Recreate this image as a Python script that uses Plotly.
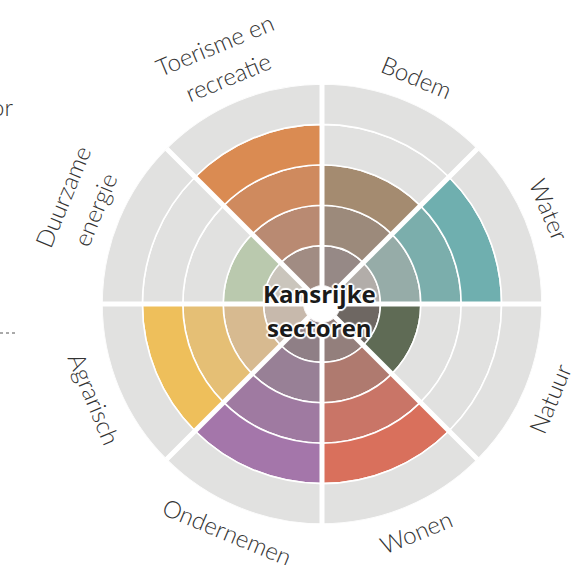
import math
import plotly.graph_objects as go

# ---- data ----
sectors = ["Bodem", "Water", "Natuur", "Wonen", "Ondernemen", "Agrarisch",
           "Duurzame<br>energie", "Toerisme en<br>recreatie"]
scores = [3, 4, 2, 4, 4, 4, 2, 4]
max_score = 5
center_title = ["Kansrijke", "sectoren"]

# ---- styles (ring colours from inner ring outward) ----
ring_colors = [
    ["#968986", "#9C8A7B", "#A48B70"],
    ["#B2ADA9", "#96ACA8", "#7BAEAC", "#6FAFAF"],
    ["#6E6762", "#5F6B55"],
    ["#937F7C", "#AF7A6F", "#C97567", "#D9705C"],
    ["#8F7F86", "#988096", "#9F7AA1", "#A476AA"],
    ["#C7B9AC", "#D7BA90", "#E5BF75", "#EEBF5B"],
    ["#CAC5BC", "#BAC9AE"],
    ["#A18C83", "#B98A72", "#CF8A5E", "#DA8B52"],
]
EMPTY = "#E1E1E0"
W, H = 576, 565
CX, CY, R = 322, 304, 220
HOLE_PX = 18

n = len(sectors)
step = 360 / n
theta = [i * step + step / 2 for i in range(n)]

fig = go.Figure()
for lvl in range(1, max_score + 1):
    cols = [ring_colors[i][lvl - 1] if lvl <= scores[i] else EMPTY for i in range(n)]
    fig.add_trace(go.Barpolar(
        r=[1] * n, base=[lvl - 1] * n, theta=theta, width=[step] * n,
        marker=dict(color=cols, line=dict(color="white", width=1.6)),
        hoverinfo="skip", showlegend=False))

# sector separators
for i in range(n):
    a = i * step
    fig.add_trace(go.Scatterpolar(
        r=[0, max_score], theta=[a, a], mode="lines",
        line=dict(color="white", width=5), hoverinfo="skip", showlegend=False))

fig.update_layout(
    width=W, height=H, margin=dict(l=0, r=0, t=0, b=0),
    paper_bgcolor="white", plot_bgcolor="white",
    polar=dict(
        domain=dict(x=[(CX - R) / W, (CX + R) / W], y=[1 - (CY + R) / H, 1 - (CY - R) / H]),
        bgcolor="white", hole=HOLE_PX / R,
        radialaxis=dict(range=[0, max_score], visible=False),
        angularaxis=dict(direction="clockwise", rotation=90, visible=False,
                         showgrid=False, showline=False, showticklabels=False),
    ),
)

LABEL_FONT = dict(family="Lato", size=24, color="#333333", weight=300)
R_LABEL = 246
LINE_SP = 35
annotations = []
for i, lab in enumerate(sectors):
    a = theta[i]
    flipped = 90 < a < 270
    ang = a - 180 if flipped else (a if a <= 90 else a - 360)
    lines = lab.split("<br>")
    k = len(lines)
    for j, ln in enumerate(lines):
        off = (k - 1) / 2 * LINE_SP - j * LINE_SP
        rr = (R_LABEL + (k - 1) * LINE_SP / 2) + (-off if flipped else off)
        px = CX + rr * math.sin(math.radians(a))
        py = CY - rr * math.cos(math.radians(a))
        annotations.append(dict(
            x=px / W, y=1 - py / H, xref="paper", yref="paper", text=ln,
            showarrow=False, textangle=ang, xanchor="center", yanchor="middle",
            font=LABEL_FONT))

shadow = ", ".join(f"white {dx}px {dy}px 1px" for dx, dy in
                   [(2, 0), (-2, 0), (0, 2), (0, -2), (1, 1), (-1, -1), (1, -1), (-1, 1)])
for j, t in enumerate(center_title):
    py = CY - 11 + j * 34
    annotations.append(dict(
        x=(CX - 3) / W, y=1 - py / H, xref="paper", yref="paper", text=t,
        showarrow=False, xanchor="center", yanchor="middle",
        font=dict(family="Open Sans", size=24, color="#1A1A1A", weight=700, shadow=shadow)))

# cut-off fragments at left edge of the original page
annotations.append(dict(x=15 / W, y=1 - 106 / H, xref="paper", yref="paper", text="or",
                        showarrow=False, xanchor="right", yanchor="middle", font=LABEL_FONT))
fig.update_layout(annotations=annotations)
fig.add_shape(type="line", xref="paper", yref="paper", x0=0, x1=15 / W,
              y0=1 - 333 / H, y1=1 - 333 / H, line=dict(color="#555", width=1, dash="dot"))

fig.write_html("out.html", config={"displayModeBar": False},
               post_script="document.body.style.margin='0px';")
